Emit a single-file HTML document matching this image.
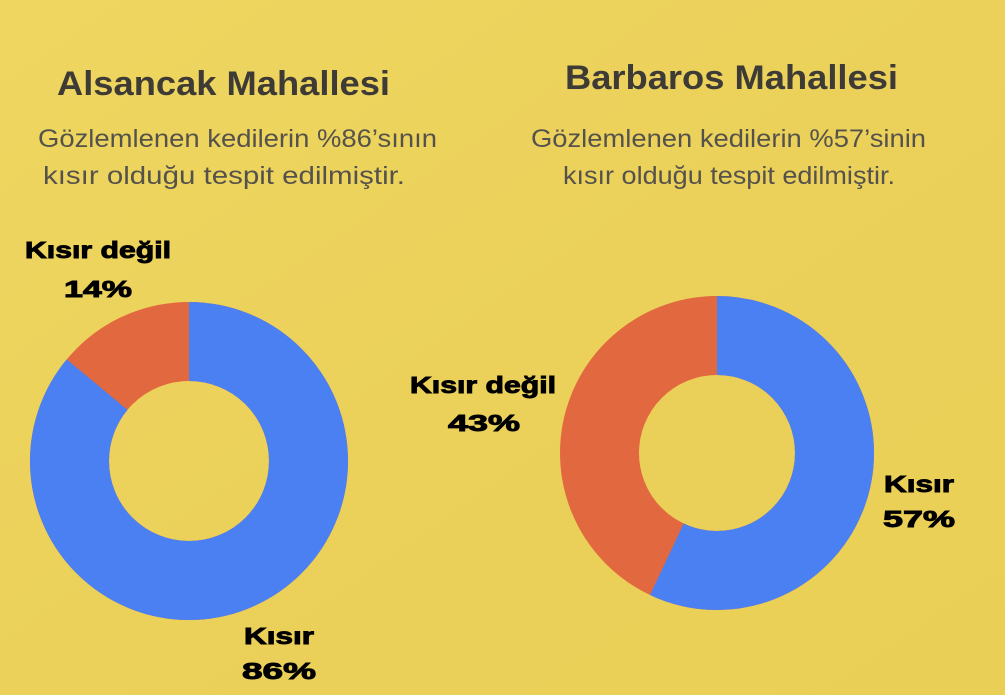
<!DOCTYPE html>
<html><head><meta charset="utf-8"><style>
body{margin:0;width:1005px;height:695px;overflow:hidden;background:#ecd25a;font-family:"Liberation Sans",sans-serif;}
svg{position:absolute;left:0;top:0}
</style></head><body>
<svg width="1005" height="695" viewBox="0 0 1005 695">
<defs><linearGradient id="bg" x1="0" y1="0" x2="1" y2="1">
<stop offset="0" stop-color="#eed660"/><stop offset="0.5" stop-color="#ebd15a"/><stop offset="1" stop-color="#e9cf55"/></linearGradient></defs>
<rect width="1005" height="695" fill="url(#bg)"/>
<g font-family="Liberation Sans, sans-serif">
<text x="57" y="95" font-size="34" font-weight="bold" fill="#3e3b37" textLength="333" lengthAdjust="spacingAndGlyphs">Alsancak  Mahallesi</text>
<text x="38" y="147" font-size="25" fill="#55524c" textLength="399" lengthAdjust="spacingAndGlyphs">Gözlemlenen kedilerin %86’sının</text>
<text x="43" y="184" font-size="25" fill="#55524c" textLength="362" lengthAdjust="spacingAndGlyphs">kısır olduğu tespit edilmiştir.</text>
<text x="565" y="89" font-size="34" font-weight="bold" fill="#3e3b37" textLength="333" lengthAdjust="spacingAndGlyphs">Barbaros  Mahallesi</text>
<text x="531" y="147" font-size="25" fill="#55524c" textLength="395" lengthAdjust="spacingAndGlyphs">Gözlemlenen kedilerin %57’sinin</text>
<text x="563" y="184" font-size="25" fill="#55524c" textLength="332" lengthAdjust="spacingAndGlyphs">kısır olduğu tespit edilmiştir.</text>
</g>
<circle cx="189" cy="461" r="119.5" fill="none" stroke="#e2683f" stroke-width="79"/>
<circle cx="189" cy="461" r="119.5" fill="none" stroke="#4a80f2" stroke-width="79" stroke-dasharray="645.7 1000" transform="rotate(-90 189 461)"/>
<circle cx="717" cy="453" r="117.5" fill="none" stroke="#e2683f" stroke-width="79"/>
<circle cx="717" cy="453" r="117.5" fill="none" stroke="#4a80f2" stroke-width="79" stroke-dasharray="420.8 1000" transform="rotate(-90 717 453)"/>
<g font-family="Liberation Sans, sans-serif" font-weight="bold" font-size="23" fill="#000" stroke="#000" stroke-width="0.9" lengthAdjust="spacingAndGlyphs">
<text x="25" y="258" textLength="146" lengthAdjust="spacingAndGlyphs">Kısır değil</text>
<text x="64" y="297" textLength="68" lengthAdjust="spacingAndGlyphs">14%</text>
<text x="244" y="644" textLength="70" lengthAdjust="spacingAndGlyphs">Kısır</text>
<text x="242" y="679" textLength="74" lengthAdjust="spacingAndGlyphs">86%</text>
<text x="410" y="393" textLength="146" lengthAdjust="spacingAndGlyphs">Kısır değil</text>
<text x="448" y="431" textLength="72" lengthAdjust="spacingAndGlyphs">43%</text>
<text x="884" y="492" textLength="70" lengthAdjust="spacingAndGlyphs">Kısır</text>
<text x="883" y="527" textLength="72" lengthAdjust="spacingAndGlyphs">57%</text>
</g>
</svg>
</body></html>
